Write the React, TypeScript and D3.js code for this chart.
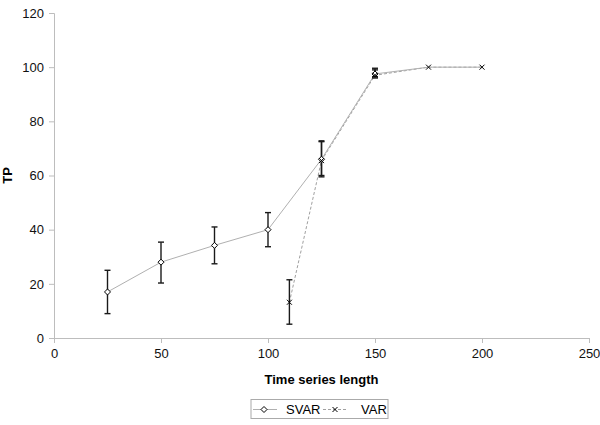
import { useEffect, useRef } from "react";
import * as d3 from "d3";

const xTicks = [0, 50, 100, 150, 200, 250];
const yTicks = [0, 20, 40, 60, 80, 100, 120];

const svarX = [25, 50, 75, 100, 125, 150, 175, 200];
const svarY = [17, 28, 34.2, 40, 66, 97.5, 100, 100];
const svarLo = [9, 20.3, 27.4, 33.7, 60, 96.5, 100, 100];
const svarHi = [25, 35.4, 41, 46.3, 72.5, 99, 100, 100];

const varX = [110, 125, 150, 175, 200];
const varY = [13.2, 65.5, 97, 100, 100];
const varLo = [5.1, 59.5, 96, 100, 100];
const varHi = [21.5, 72.8, 99.6, 100, 100];

const App = () => {
  const svgRef = useRef(null);

  useEffect(() => {
    const width = 600;
    const height = 425;
    const left = 54;
    const right = 589;
    const top = 13;
    const bottom = 338;
    const font = "Liberation Sans, Arial, sans-serif";

    const svg = d3.select(svgRef.current);
    svg.selectAll("*").remove();
    svg.attr("width", width).attr("height", height);

    const x = d3.scaleLinear().domain([0, 250]).range([left, right]);
    const y = d3.scaleLinear().domain([0, 120]).range([bottom, top]);

    // axes
    const xAxis = svg
      .append("g")
      .attr("transform", `translate(0,${bottom})`)
      .call(d3.axisBottom(x).tickValues(xTicks).tickSize(5).tickPadding(6));
    const yAxis = svg
      .append("g")
      .attr("transform", `translate(${left},0)`)
      .call(d3.axisLeft(y).tickValues(yTicks).tickSize(5).tickPadding(5));
    [xAxis, yAxis].forEach((g) => {
      g.select(".domain").attr("stroke", "#bdbdbd");
      g.selectAll(".tick line").attr("stroke", "#bdbdbd");
      g.selectAll(".tick text")
        .attr("fill", "#111")
        .style("font-family", font)
        .style("font-size", "13px");
    });

    svg
      .append("text")
      .attr("x", (left + right) / 2)
      .attr("y", 384)
      .attr("text-anchor", "middle")
      .style("font-family", font)
      .style("font-size", "13px")
      .style("font-weight", "bold")
      .text("Time series length");

    svg
      .append("text")
      .attr("transform", `translate(12,${y(60)}) rotate(-90)`)
      .attr("text-anchor", "middle")
      .style("font-family", font)
      .style("font-size", "13px")
      .style("font-weight", "bold")
      .text("TP");

    const svarData = svarX.map((d, i) => ({ x: d, y: svarY[i], lo: svarLo[i], hi: svarHi[i] }));
    const varData = varX.map((d, i) => ({ x: d, y: varY[i], lo: varLo[i], hi: varHi[i] }));

    const line = d3
      .line<any>()
      .x((d) => x(d.x))
      .y((d) => y(d.y));

    svg
      .append("path")
      .datum(varData)
      .attr("d", line)
      .attr("fill", "none")
      .attr("stroke", "#a0a0a0")
      .attr("stroke-width", 1)
      .attr("stroke-dasharray", "3,2");

    svg
      .append("path")
      .datum(svarData)
      .attr("d", line)
      .attr("fill", "none")
      .attr("stroke", "#b0b0b0")
      .attr("stroke-width", 1);

    // error bars
    const drawErr = (data) => {
      const g = svg.append("g").attr("stroke", "#1a1a1a").attr("stroke-width", 1.4);
      data
        .filter((d) => d.hi - d.lo > 0)
        .forEach((d) => {
          const cx = x(d.x);
          g.append("line").attr("x1", cx).attr("x2", cx).attr("y1", y(d.lo)).attr("y2", y(d.hi));
          g.append("line").attr("x1", cx - 3).attr("x2", cx + 3).attr("y1", y(d.lo)).attr("y2", y(d.lo));
          g.append("line").attr("x1", cx - 3).attr("x2", cx + 3).attr("y1", y(d.hi)).attr("y2", y(d.hi));
        });
    };
    drawErr(svarData);
    drawErr(varData);

    const diamond = (g, cx, cy) =>
      g
        .append("path")
        .attr("d", `M${cx},${cy - 3}L${cx + 3},${cy}L${cx},${cy + 3}L${cx - 3},${cy}Z`)
        .attr("fill", "#fff")
        .attr("stroke", "#000")
        .attr("stroke-width", 1);
    const cross = (g, cx, cy) =>
      g
        .append("path")
        .attr("d", `M${cx - 2.5},${cy - 2.5}L${cx + 2.5},${cy + 2.5}M${cx - 2.5},${cy + 2.5}L${cx + 2.5},${cy - 2.5}`)
        .attr("stroke", "#000")
        .attr("stroke-width", 1);

    // diamonds fully covered by a VAR point (same position) are hidden in the original
    const marks = svg.append("g");
    svarData
      .filter((d) => !varData.some((v) => v.x === d.x && v.y === d.y))
      .forEach((d) => diamond(marks, x(d.x), y(d.y)));
    varData.forEach((d) => cross(marks, x(d.x), y(d.y)));

    // legend
    const lg = svg.append("g");
    lg.append("rect")
      .attr("x", 251)
      .attr("y", 399.5)
      .attr("width", 137)
      .attr("height", 19)
      .attr("fill", "#fff")
      .attr("stroke", "#aaa");
    const ly = 409.5;
    lg.append("line").attr("x1", 253).attr("x2", 277).attr("y1", ly).attr("y2", ly).attr("stroke", "#b0b0b0");
    diamond(lg, 264, ly);
    lg.append("text")
      .attr("x", 286)
      .attr("y", ly + 4.5)
      .style("font-family", font)
      .style("font-size", "13px")
      .text("SVAR");
    lg.append("line")
      .attr("x1", 323)
      .attr("x2", 347)
      .attr("y1", ly)
      .attr("y2", ly)
      .attr("stroke", "#a0a0a0")
      .attr("stroke-dasharray", "3,2");
    cross(lg, 335, ly);
    lg.append("text")
      .attr("x", 361)
      .attr("y", ly + 4.5)
      .style("font-family", font)
      .style("font-size", "13px")
      .text("VAR");
  }, []);

  return (
    <div>
      <style>{`body{margin:0}`}</style>
      <svg ref={svgRef} style={{ display: "block" }}></svg>
    </div>
  );
};

export default App;
